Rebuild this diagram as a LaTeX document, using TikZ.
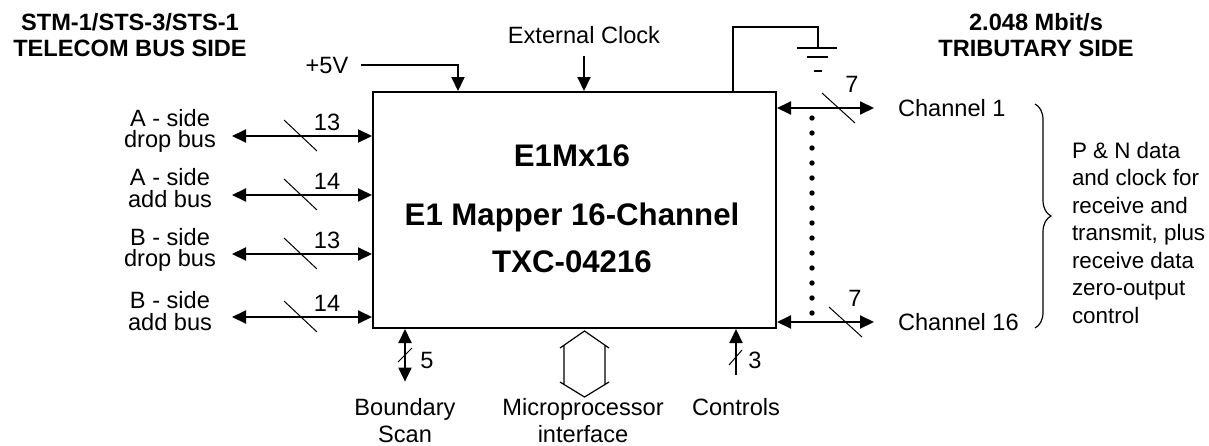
\documentclass[tikz,border=0pt]{standalone}
\usepackage{fontspec}
\setmainfont{Liberation Sans}
\usetikzlibrary{arrows.meta,decorations.pathreplacing}
\tikzset{
  e1map/.style={x=0.5pt,y=-0.5pt,line width=1pt},
  bus/.style={line width=1pt,{Triangle[length=7pt,width=6.5pt]}-{Triangle[length=7pt,width=6.5pt]}},
  busin/.style={line width=1pt,-{Triangle[length=7pt,width=6.5pt]}},
  tick/.style={line width=0.5pt},
  lbl/.style={font=\fontsize{11.8}{10.8}\selectfont,align=center,inner sep=0pt},
  sublbl/.style={font=\fontsize{11.8}{13.2}\selectfont,align=center,inner sep=0pt},
  wide/.style={font=\fontsize{11.2}{13.75}\selectfont,align=left,inner sep=0pt},
  num/.style={font=\fontsize{11.8}{13}\selectfont,inner sep=0pt},
  head/.style={font=\bfseries\fontsize{11.8}{13}\selectfont,align=center,inner sep=0pt},
  chiptext/.style={font=\bfseries\fontsize{15.6}{18}\selectfont,inner sep=0pt},
}

\begin{document}
\begin{tikzpicture}[e1map]
    \useasboundingbox (0,0) rectangle (1209,445);
    % the device
    \node[draw,minimum width=201.5pt,minimum height=118pt,inner sep=0pt] (chip) at (574.5,210) {};
    \node[chiptext] (partname) at (572,156) {E1Mx16};
    \node[chiptext] (parttitle) at (572,217) {E1 Mapper 16-Channel};
    \node[chiptext] (partno) at (572,262) {TXC-04216};
    \node[head] (busside) at (130,35) {STM-1/STS-3/STS-1\\TELECOM BUS SIDE};
    \node[head] (tribside) at (1036,35) {2.048 Mbit/s\\TRIBUTARY SIDE};
    % telecom bus side
    \foreach \y/\ty/\nm/\la/\lb/\w in {136/131/adrop/A - side/drop bus/13,195/188/aadd/A - side/add bus/14,254/250/bdrop/B - side/drop bus/13,317/311/badd/B - side/add bus/14}{
      \node[lbl] (\nm) at (170,\ty) {\la\\\lb};
      \coordinate (\nm end) at (232,\y);
      \draw[bus] (\nm end) -- (\nm end -| chip.west);
      \draw[tick] (284,{\y-16}) -- (317,{\y+15});
      \node[num] (\nm w) at (327,{\y-14}) {\w};
    }
    % supply, clock, ground
    \node[num] (vcc) at (327,65) {+5V};
    \draw[busin] ([xshift=6pt]vcc.east) -| (458,0 |- chip.north);
    \node[num] (clk) at (584,35) {External Clock};
    \draw[busin] ([yshift=-5.5pt]clk.south) -- (clk.south |- chip.north);
    \coordinate (gnd) at (818,48);
    \draw (733,0 |- chip.north) |- (818,27) -- (gnd);
    \draw (gnd) ++(-21,0) -- ++(40,0);
    \draw (gnd) ++(-11,9) -- ++(21,0);
    \draw (gnd) ++(-4,23) -- ++(8,0);
    % tributary side
    \foreach \y/\nm/\txt/\sx/\wx in {108/chone/Channel 1/822/852,322/chsixteen/Channel 16/829/855}{
      \node[num,anchor=west] (\nm) at (897,\y) {\txt};
      \coordinate (\nm end) at (874,\y);
      \draw[bus] (\nm end -| chip.east) -- (\nm end);
      \draw[tick] (\sx,{\y-15}) -- ({\sx+33},{\y+15});
      \node[num] (\nm w) at (\wx,{\y-24}) {7};
    }
    \foreach \k in {0,...,13} \fill (812,{118+15*\k}) circle (1.35pt);
    \draw[line width=0.6pt,decorate,decoration={brace,amplitude=8pt}] (1035,104) -- (1035,328);
    \node[wide,anchor=west] (rxtx) at (1071,232.5) {P \& N data\\and clock for\\receive and\\transmit, plus\\receive data\\zero-output\\control};
    % bottom side
    \node[sublbl] (bscan) at (405,420.5) {Boundary\\Scan};
    \draw[bus] ([yshift=8pt]bscan.north) -- (bscan.north |- chip.south);
    \draw[tick] (398,362) -- (412,348);
    \node[num] (bscanw) at (427,360) {5};
    \node[sublbl] (mpu) at (583,420.5) {Microprocessor\\interface};
    \draw[line width=0.6pt] (560,348) -- (584.5,331) -- (609,348)
      (564,345) -- (564,385) (605,345) -- (605,385)
      (560,382) -- (584.5,397) -- (609,382);
    \node[num] (ctrl) at (736,407.5) {Controls};
    \draw[busin] ([yshift=11.5pt]ctrl.north) -- (ctrl.north |- chip.south);
    \draw[tick] (729,365) -- (742,350);
    \node[num] (ctrlw) at (755,360) {3};
\end{tikzpicture}
\end{document}
